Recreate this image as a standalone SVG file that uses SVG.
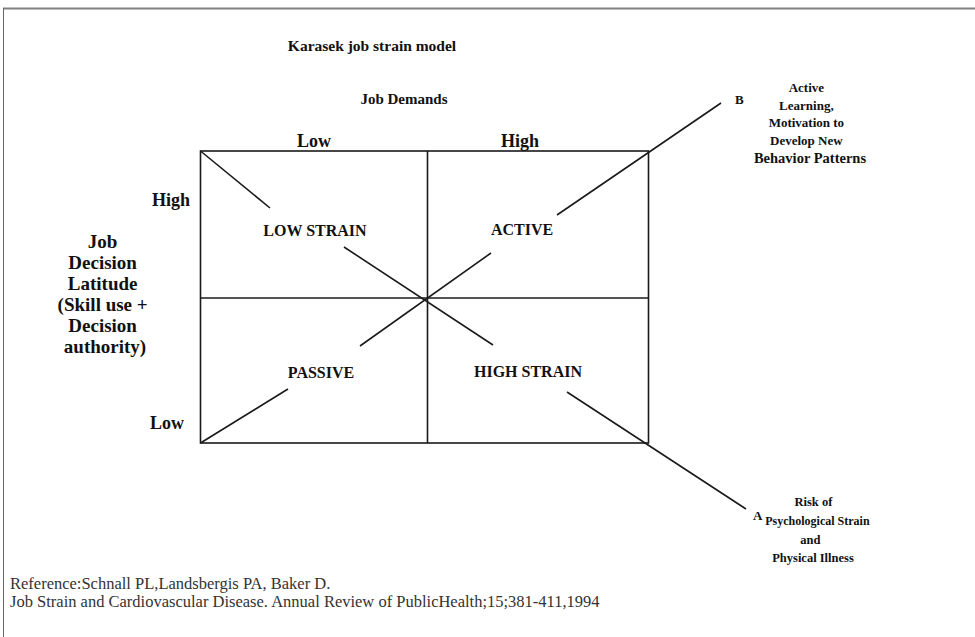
<svg xmlns="http://www.w3.org/2000/svg" width="975" height="637" viewBox="0 0 975 637">
<style>
  text { font-family: "Liberation Serif", "Times New Roman", serif; fill: #111; }
  .b { font-weight: bold; }
  .c { text-anchor: middle; }
  .r { text-anchor: end; }
  .ln { stroke: #1a1a1a; stroke-width: 1.6; fill: none; }
  .ref { font-size: 16.5px; fill: #333; }
  .q { font-size: 16px; }
</style>
<rect x="0" y="0" width="975" height="637" fill="#ffffff"/>
<g id="frame">
  <line x1="3" y1="8.5" x2="975" y2="8.5" stroke="#808080" stroke-width="2"/>
  <line x1="3.5" y1="8" x2="3.5" y2="637" stroke="#666" stroke-width="1"/>
</g>
<g id="title"><text class="b c" x="372" y="51" font-size="15.5">Karasek job strain model</text></g>
<g id="axis-x">
  <text class="b c" x="404" y="104" font-size="15">Job Demands</text>
  <text class="b c" x="314" y="147" font-size="18">Low</text>
  <text class="b c" x="520" y="147" font-size="18">High</text>
</g>
<g id="axis-y">
  <text class="b r" x="190" y="206" font-size="18">High</text>
  <text class="b r" x="184" y="429" font-size="18">Low</text>
  <text class="b c" font-size="19">
    <tspan x="105" y="248">Job</tspan>
    <tspan x="105" y="269">Decision</tspan>
    <tspan x="105" y="290">Latitude</tspan>
    <tspan x="105" y="311">(Skill use +</tspan>
    <tspan x="105" y="332">Decision</tspan>
    <tspan x="105" y="353">authority)</tspan>
  </text>
</g>
<g id="grid">
  <rect class="ln" x="200.5" y="151" width="448" height="292"/>
  <line class="ln" x1="427.5" y1="151" x2="427.5" y2="443"/>
  <line class="ln" x1="200.5" y1="298" x2="648.5" y2="298"/>
</g>
<g id="low-strain"><text class="b c q" x="315" y="236">LOW STRAIN</text></g>
<g id="active"><text class="b c q" x="522" y="235">ACTIVE</text></g>
<g id="passive"><text class="b c q" x="321" y="378">PASSIVE</text></g>
<g id="high-strain"><text class="b c q" x="528" y="377">HIGH STRAIN</text></g>
<g id="node-b">
  <text class="b" x="735" y="104" font-size="13">B</text>
  <text class="b c" font-size="13">
    <tspan x="808" y="92">Active</tspan>
    <tspan x="808" y="110">Learning,</tspan>
    <tspan x="808" y="127">Motivation to</tspan>
    <tspan x="808" y="145">Develop New</tspan>
    <tspan x="810" y="163" font-size="14.5">Behavior Patterns</tspan>
  </text>
</g>
<g id="node-a">
  <text class="b" x="753" y="520" font-size="13">A</text>
  <text class="b c" font-size="12.5">
    <tspan x="815" y="506">Risk of</tspan>
    <tspan x="819" y="525" font-size="12">Psychological Strain</tspan>
    <tspan x="812" y="544">and</tspan>
    <tspan x="813" y="562">Physical Illness</tspan>
  </text>
</g>
<g id="connectors">
  <line class="ln" x1="200.5" y1="151" x2="270" y2="208"/>
  <line class="ln" x1="344" y1="247" x2="493" y2="345"/>
  <line class="ln" x1="567" y1="392" x2="746" y2="509"/>
  <line class="ln" x1="200.5" y1="443" x2="288" y2="389"/>
  <line class="ln" x1="360" y1="346" x2="491" y2="253"/>
  <line class="ln" x1="557" y1="215" x2="721" y2="103"/>
</g>
<g id="reference">
  <text class="ref" x="10" y="589">Reference:Schnall PL,Landsbergis PA, Baker D.</text>
  <text class="ref" x="10" y="607">Job Strain and Cardiovascular Disease. Annual Review of PublicHealth;15;381-411,1994</text>
</g>
</svg>
